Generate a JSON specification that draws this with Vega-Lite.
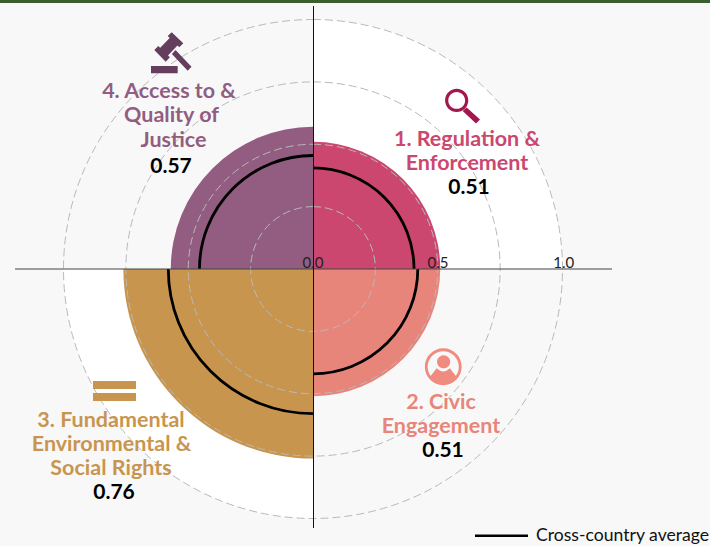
{
"$schema":"https://vega.github.io/schema/vega-lite/v6.json",
"width":710,"height":546,"padding":0,"autosize":{"type":"none"},
"background":"#f8f8f8",
"view":{"stroke":null},
"datasets":{
"score":[
{"pillar":"1","cx":0,"cy":0,"t0":0,"t1":1,"score":0.51,"average":0.405},
{"pillar":"2","cx":0,"cy":0,"t0":1,"t1":2,"score":0.51,"average":0.42},
{"pillar":"3","cx":0,"cy":0,"t0":2,"t1":3,"score":0.76,"average":0.58},
{"pillar":"4","cx":0,"cy":0,"t0":3,"t1":4,"score":0.57,"average":0.455}],
"white":[{"cx":0,"cy":0,"t0":0,"t1":1,"r":1},{"cx":0,"cy":0,"t0":2,"t1":3,"r":1}],
"grid":[{"cx":0,"cy":0,"t0":0,"t1":4,"r":0.25},{"cx":0,"cy":0,"t0":0,"t1":4,"r":0.5},{"cx":0,"cy":0,"t0":0,"t1":4,"r":0.75},{"cx":0,"cy":0,"t0":0,"t1":4,"r":1}],
"labels":[
{"pillar":"1","x":0.616,"y":0.492,"t":"1. Regulation &"},
{"pillar":"1","x":0.616,"y":0.396,"t":"Enforcement"},
{"pillar":"2","x":0.512,"y":-0.56,"t":"2. Civic"},
{"pillar":"2","x":0.512,"y":-0.656,"t":"Engagement"},
{"pillar":"3","x":-0.808,"y":-0.632,"t":"3. Fundamental"},
{"pillar":"3","x":-0.806,"y":-0.728,"t":"Environmental &"},
{"pillar":"3","x":-0.808,"y":-0.824,"t":"Social Rights"},
{"pillar":"4","x":-0.576,"y":0.684,"t":"4. Access to &"},
{"pillar":"4","x":-0.566,"y":0.588,"t":"Quality of"},
{"pillar":"4","x":-0.558,"y":0.488,"t":"Justice"}],
"values":[
{"x":0.624,"y":0.3,"t":"0.51"},
{"x":0.52,"y":-0.752,"t":"0.51"},
{"x":-0.796,"y":-0.92,"t":"0.76"},
{"x":-0.568,"y":0.384,"t":"0.57"}],
"ticks":[{"x":0,"y":0.004,"t":"0.0"},{"x":0.5,"y":0.004,"t":"0.5"},{"x":1.003,"y":0.004,"t":"1.0"}]
},
"layer":[
{"data":{"values":[{"x":-1.252,"x2":1.588,"y":1.076,"y2":1.064}]},
 "mark":{"type":"rect","color":"#3b5e2f"},
 "encoding":{"x":{"field":"x","type":"quantitative","axis":null,"scale":{"domain":[-1.252,1.588],"nice":false,"zero":false}},"x2":{"field":"x2"},"y":{"field":"y","type":"quantitative","axis":null,"scale":{"domain":[-1.108,1.076],"nice":false,"zero":false}},"y2":{"field":"y2"}}},
{"data":{"name":"white"},
 "mark":{"type":"arc","color":"#ffffff"},
 "encoding":{"x":{"field":"cx","type":"quantitative"},"y":{"field":"cy","type":"quantitative"},
  "theta":{"field":"t0","type":"quantitative","scale":{"domain":[0,4],"range":[0,6.283185307179586]}},"theta2":{"field":"t1"},
  "radius":{"field":"r","type":"quantitative","scale":{"domain":[0,1],"range":[0,249.5]}}}},
{"data":{"name":"score"},
 "mark":{"type":"arc"},
 "encoding":{"x":{"field":"cx","type":"quantitative"},"y":{"field":"cy","type":"quantitative"},
  "theta":{"field":"t0","type":"quantitative"},"theta2":{"field":"t1"},
  "radius":{"field":"score","type":"quantitative"},
  "color":{"field":"pillar","type":"nominal","legend":null,"scale":{"domain":["1","2","3","4"],"range":["#cb476f","#e8857a","#c8954f","#925d80"]}}}},
{"data":{"name":"grid"},
 "mark":{"type":"arc","fillOpacity":0,"stroke":"#b9b9b9","strokeWidth":1,"strokeDash":[8,4]},
 "encoding":{"x":{"field":"cx","type":"quantitative"},"y":{"field":"cy","type":"quantitative"},
  "theta":{"field":"t0","type":"quantitative"},"theta2":{"field":"t1"},
  "radius":{"field":"r","type":"quantitative"}}},
{"data":{"name":"score"},
 "mark":{"type":"arc","fillOpacity":0,"stroke":"#000000","strokeWidth":2.8},
 "encoding":{"x":{"field":"cx","type":"quantitative"},"y":{"field":"cy","type":"quantitative"},
  "theta":{"field":"t0","type":"quantitative"},"theta2":{"field":"t1"},
  "radius":{"field":"average","type":"quantitative"},"radius2":{"field":"average"}}},
{"data":{"values":[{"x":-1.192,"x2":1.196,"y":0}]},
 "mark":{"type":"rule","color":"#444444","strokeWidth":1.2},
 "encoding":{"x":{"field":"x","type":"quantitative"},"x2":{"field":"x2"},"y":{"field":"y","type":"quantitative"}}},
{"data":{"values":[{"x":0.002,"y":1.052,"y2":-1.036}]},
 "mark":{"type":"rule","color":"#111111","strokeWidth":1},
 "encoding":{"x":{"field":"x","type":"quantitative"},"y":{"field":"y","type":"quantitative"},"y2":{"field":"y2"}}},
{"data":{"name":"ticks"},
 "mark":{"type":"text","font":"Lato","fontSize":15,"color":"#222222","baseline":"alphabetic","align":"center"},
 "encoding":{"x":{"field":"x","type":"quantitative"},"y":{"field":"y","type":"quantitative"},"text":{"field":"t"}}},
{"data":{"name":"labels"},
 "mark":{"type":"text","font":"Lato","fontSize":21.5,"fontWeight":"bold","baseline":"alphabetic","align":"center"},
 "encoding":{"x":{"field":"x","type":"quantitative"},"y":{"field":"y","type":"quantitative"},"text":{"field":"t"},"color":{"field":"pillar","type":"nominal","legend":null}}},
{"data":{"name":"values"},
 "mark":{"type":"text","font":"Lato","fontSize":21,"fontWeight":"bold","color":"#000000","baseline":"alphabetic","align":"center"},
 "encoding":{"x":{"field":"x","type":"quantitative"},"y":{"field":"y","type":"quantitative"},"text":{"field":"t"}}},
{"data":{"values":[{"x":-0.566,"y":0.866}]},
 "mark":{"type":"point","filled":true,"opacity":1,"size":1600,"color":"#653e5e","shape":"M0.01,-1.01 L0.59,-0.46 L0.39,-0.26 L-0.19,-0.825 Z M-0.08,-0.74 L0.31,-0.36 L-0.19,0.16 L-0.575,-0.225 Z M-0.66,-0.325 L-0.08,0.24 L-0.29,0.46 L-0.86,-0.125 Z M0.2,-0.12 L1.0,0.71 L0.81,0.91 L0.02,0.08 Z M-1.025,0.675 L0.31,0.675 L0.31,1.04 L-1.025,1.04 Z"},
 "encoding":{"x":{"field":"x","type":"quantitative"},"y":{"field":"y","type":"quantitative"}}},
{"data":{"values":[{"x":0.598,"y":0.651}]},
 "mark":{"type":"point","filled":true,"opacity":1,"size":1600,"color":"#a3174f","shape":"M-0.87,-0.29 A0.58,0.58 0 1 1 0.29,-0.29 A0.58,0.58 0 1 1 -0.87,-0.29 Z M-0.71,-0.29 A0.42,0.42 0 1 0 0.13,-0.29 A0.42,0.42 0 1 0 -0.71,-0.29 Z M0.21,0.06 L0.875,0.66 L0.675,0.86 L0.01,0.24 Z"},
 "encoding":{"x":{"field":"x","type":"quantitative"},"y":{"field":"y","type":"quantitative"}}},
{"data":{"values":[{"x":0.521,"y":-0.391}]},
 "mark":{"type":"point","filled":true,"opacity":1,"size":1600,"color":"#f08b80","shape":"M-0.92,0 A0.92,0.92 0 1 1 0.92,0 A0.92,0.92 0 1 1 -0.92,0 Z M-0.78,0 A0.78,0.78 0 1 0 0.78,0 A0.78,0.78 0 1 0 -0.78,0 Z M-0.31,-0.25 A0.33,0.33 0 1 1 0.35,-0.25 A0.33,0.33 0 1 1 -0.31,-0.25 Z M-0.63,0.46 L-0.33,0.08 Q0,0.4 0.33,0.08 L0.63,0.46 A0.78,0.78 0 0 1 -0.63,0.46 Z"},
 "encoding":{"x":{"field":"x","type":"quantitative"},"y":{"field":"y","type":"quantitative"}}},
{"data":{"values":[{"x":-0.794,"y":-0.488}]},
 "mark":{"type":"point","filled":true,"opacity":1,"size":1600,"color":"#c8954f","shape":"M-1.075,-0.5 L1.075,-0.5 L1.075,-0.1 L-1.075,-0.1 Z M-1.075,0.1 L1.075,0.1 L1.075,0.5 L-1.075,0.5 Z"},
 "encoding":{"x":{"field":"x","type":"quantitative"},"y":{"field":"y","type":"quantitative"}}},
{"data":{"values":[{"x":0.648,"x2":0.86,"y":-1.067}]},
 "mark":{"type":"rule","color":"#000000","strokeWidth":2.5},
 "encoding":{"x":{"field":"x","type":"quantitative"},"x2":{"field":"x2"},"y":{"field":"y","type":"quantitative"}}},
{"data":{"values":[{"x":0.892,"y":-1.088,"t":"Cross-country average"}]},
 "mark":{"type":"text","font":"Lato","fontSize":17.6,"color":"#111111","baseline":"alphabetic","align":"left"},
 "encoding":{"x":{"field":"x","type":"quantitative"},"y":{"field":"y","type":"quantitative"},"text":{"field":"t"}}}
]
}
